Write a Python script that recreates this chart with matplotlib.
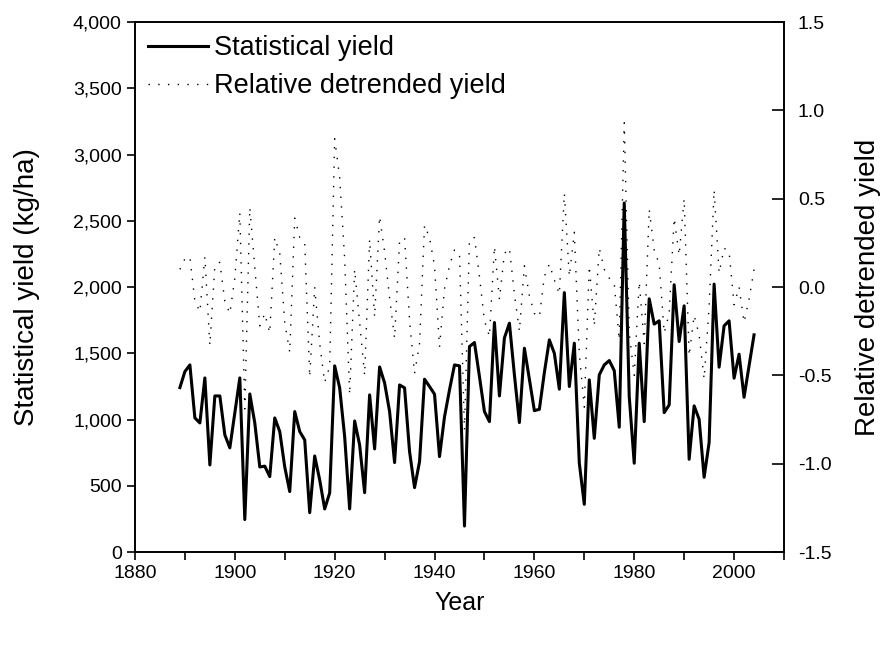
import numpy as np
import matplotlib.pyplot as plt
from matplotlib.ticker import FuncFormatter, MultipleLocator

plt.rcParams['font.family'] = ['Liberation Sans', 'DejaVu Sans']
plt.rcParams['axes.unicode_minus'] = False

years = np.arange(1889, 2005)

# statistical yield (kg/ha), left axis
stat_yield = [
    1241, 1362, 1412, 1012, 974, 1314, 657, 1178, 1178, 884,
    786, 1050, 1314, 245, 1193, 974, 642, 648, 569, 1012,
    909, 642, 456, 1060, 909, 846, 297, 725, 544, 325,
    446, 1405, 1239, 871, 325, 989, 808, 448, 1186, 778,
    1397, 1276, 1060, 675, 1261, 1239, 758, 486, 682, 1304,
    1249, 1191, 720, 1020, 1224, 1412, 1405, 196, 1551, 1581,
    1324, 1060, 984, 1732, 1178, 1616, 1727, 1337, 977, 1538,
    1304, 1067, 1077, 1354, 1601, 1500, 1229, 1958, 1249, 1576,
    670, 360, 1299, 858, 1337, 1412, 1445, 1369, 942, 2634,
    1173, 670, 1576, 984, 1911, 1720, 1745, 1052, 1110, 2017,
    1589, 1858, 700, 1103, 1002, 564, 826, 2022, 1395, 1707,
    1745, 1312, 1493, 1168, 1405, 1639,
]

# relative detrended yield, right axis
rel_yield = [
    0.10, 0.16, 0.17, -0.08, -0.14, 0.17, -0.33, 0.12, 0.14, -0.08,
    -0.15, 0.05, 0.42, -0.69, 0.45, 0.11, -0.22, -0.15, -0.26, 0.28,
    0.19, -0.20, -0.37, 0.39, 0.28, 0.25, -0.51, 0.00, -0.32, -0.54,
    -0.45, 0.84, 0.62, 0.16, -0.61, 0.10, -0.20, -0.50, 0.27, -0.17,
    0.40, 0.20, -0.06, -0.29, 0.26, 0.28, -0.19, -0.49, -0.32, 0.35,
    0.28, 0.12, -0.34, -0.01, 0.12, 0.21, 0.19, -0.81, 0.27, 0.28,
    0.06, -0.19, -0.28, 0.23, -0.07, 0.19, 0.22, -0.04, -0.25, 0.12,
    -0.05, -0.15, -0.17, 0.06, 0.13, 0.04, -0.04, 0.53, 0.06, 0.31,
    -0.38, -0.68, 0.12, -0.22, 0.22, 0.10, 0.05, 0.02, -0.30, 0.93,
    -0.26, -0.50, 0.03, -0.32, 0.44, 0.21, 0.13, -0.26, -0.15, 0.39,
    0.18, 0.50, -0.39, -0.16, -0.27, -0.52, -0.11, 0.55, 0.08, 0.22,
    0.20, -0.10, 0.00, -0.20, -0.07, 0.10,
]

fig = plt.figure(figsize=(8.81, 6.46), dpi=100)
ax = fig.add_axes([0.1532, 0.1455, 0.7367, 0.8204])
ax2 = ax.twinx()

l1, = ax.plot(years, stat_yield, color="black", lw=2.2)
l2, = ax2.plot(years, rel_yield, color="black", lw=1.0, linestyle=(0, (1, 6)))

ax.set_xlim(1880, 2010)
ax.set_ylim(0, 4000)
ax2.set_ylim(-1.5, 1.5)

ax.xaxis.set_major_locator(MultipleLocator(20))
ax.xaxis.set_minor_locator(MultipleLocator(10))
ax.yaxis.set_major_locator(MultipleLocator(500))
ax.yaxis.set_major_formatter(FuncFormatter(lambda v, p: f"{int(v):,}"))
ax2.yaxis.set_major_locator(MultipleLocator(0.5))
ax2.yaxis.set_major_formatter(FuncFormatter(lambda v, p: f"{v:.1f}"))

ax.tick_params(axis="both", which="both", direction="out", length=6, width=1.2, labelsize=14)
ax.tick_params(axis="x", which="both", top=False)
ax.tick_params(axis="y", right=False)
ax2.tick_params(axis="y", direction="in", length=9, width=1.2, labelsize=14, pad=10)

for a in (ax, ax2):
    for s in a.spines.values():
        s.set_linewidth(1.2)

ax.set_xlabel("Year", fontsize=18, labelpad=6)
ax.set_ylabel("Statistical yield (kg/ha)", fontsize=20, labelpad=24)
ax2.set_ylabel("Relative detrended yield", fontsize=20, labelpad=17)

ax2.legend([l1, l2], ["Statistical yield", "Relative detrended yield"],
           loc="upper left", bbox_to_anchor=(0.02, 0.975), frameon=False,
           fontsize=19.5, handlelength=2.2, handletextpad=0.25, labelspacing=0.45,
           borderaxespad=0, borderpad=0)

fig.savefig("out.png", dpi=100)
